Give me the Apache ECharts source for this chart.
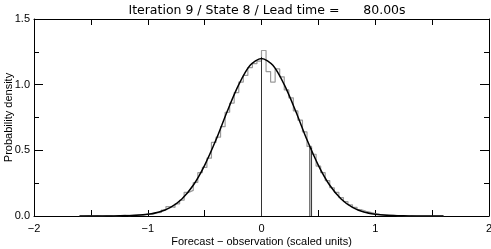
<!DOCTYPE html>
<html><head><meta charset="utf-8">
<script src="https://cdn.jsdelivr.net/npm/echarts@6/dist/echarts.min.js"></script>
<style>html,body{margin:0;padding:0;background:#fff}#c{width:491px;height:249px}</style>
</head><body><div id="c"></div>
<script>
var titleText = 'Iteration 9 / State 8 / Lead time =      80.00s';
var xName = 'Forecast \u2212 observation (scaled units)';
var yName = 'Probability density';
var xTickLabels = {'-2':'\u22122','-1':'\u22121','0':'0','1':'1','2':'2'};
var yTickLabels = {'0':'0.0','0.5':'0.5','1':'1.0','1.5':'1.5'};
var binStart = -1.60;
var binWidth = 0.04;
var histValues = [
 0.000,0.003,0.000,0.003,0.000,0.003,0.003,0.000,0.003,0.006,
 0.003,0.006,0.009,0.006,0.015,0.012,0.024,0.027,0.045,0.072,
 0.066,0.093,0.120,0.180,0.195,0.255,0.330,0.370,0.440,0.560,
 0.600,0.680,0.790,0.860,0.940,1.020,1.070,1.130,1.160,1.180,
 1.260,1.100,1.020,1.120,1.060,0.960,0.900,0.800,0.730,0.640,
 0.530,0.470,0.380,0.330,0.270,0.215,0.180,0.140,0.110,0.085,
 0.066,0.048,0.036,0.027,0.018,0.012,0.009,0.006,0.006,0.003,
 0.003,0.000,0.003,0.000,0.000,0.000,0.000,0.000,0.000,0.000
];
var curveX = [-1.6,-1.5,-1.4,-1.3,-1.2,-1.1,-1.0,-0.9,-0.8,-0.7,-0.6,-0.5,-0.4,-0.3,-0.2,-0.1,0,0.1,0.2,0.3,0.4,0.5,0.6,0.7,0.8,0.9,1.0,1.1,1.2,1.3,1.4,1.5,1.6];
var curveY = [0.000,0.000,0.0002,0.0005,0.002,0.005,0.013,0.030,0.066,0.130,0.234,0.386,0.580,0.800,1.000,1.147,1.200,1.147,1.000,0.800,0.580,0.386,0.234,0.130,0.066,0.030,0.013,0.005,0.002,0.0005,0.0002,0.000,0.000];
var vLineX = [0, 0.425, 0.44];
var vLineTop = [1.21, 0.53, 0.52];

var histData = [];
for (var i = 0; i < histValues.length; i++) histData.push([+(binStart + i*binWidth).toFixed(4), histValues[i]]);
histData.push([+(binStart + histValues.length*binWidth).toFixed(4), 0]);
var curveData = curveX.map(function(x,i){return [x, curveY[i]];});
var vSeries = vLineX.map(function(x,i){
  return {type:'line', xAxisIndex:0, yAxisIndex:0, data:[[x,0],[x,vLineTop[i]]], symbol:'none', silent:true,
    lineStyle:{color:'#333', width:1}, z:4};
});

var font = 'Liberation Sans, Arial, sans-serif';
var chart = echarts.init(document.getElementById('c'), null, {renderer:'canvas'});
chart.setOption({
  animation:false,
  backgroundColor:'#fff',
  title:{text:titleText, left:262, top:-1, textAlign:'center',
    textStyle:{fontSize:12.5, fontWeight:'normal', color:'#000', fontFamily:'DejaVu Sans, sans-serif'}},
  grid:{left:34, right:2, top:19, bottom:33, containLabel:false, outerBoundsMode:'none'},
  xAxis:[
    {type:'value', min:-2, max:2, interval:0.5, position:'bottom',
     name:xName, nameLocation:'middle', nameGap:20, nameMoveOverlap:false,
     nameTextStyle:{fontSize:11, color:'#000', fontFamily:font},
     axisLine:{show:true, onZero:false, lineStyle:{color:'#000', width:1}},
     axisTick:{show:true, inside:true, length:6, lineStyle:{color:'#000'}},
     axisLabel:{fontSize:11, color:'#000', fontFamily:font, margin:7,
       formatter:function(v){var k=String(+v.toFixed(2)); return xTickLabels.hasOwnProperty(k)?xTickLabels[k]:'';}},
     splitLine:{show:false}},
    {type:'value', min:-2, max:2, interval:0.5, position:'top',
     axisLine:{show:true, onZero:false, lineStyle:{color:'#000', width:1}},
     axisTick:{show:true, inside:true, length:6, lineStyle:{color:'#000'}},
     axisLabel:{show:false}, splitLine:{show:false}}
  ],
  yAxis:[
    {type:'value', min:0, max:1.5, interval:0.5, position:'left',
     name:yName, nameLocation:'middle', nameGap:20, nameRotate:90, nameMoveOverlap:false,
     nameTextStyle:{fontSize:11, color:'#000', fontFamily:font},
     axisLine:{show:true, onZero:false, lineStyle:{color:'#000', width:1}},
     axisTick:{show:true, inside:true, length:9, lineStyle:{color:'#000'}},
     minorTick:{show:true, splitNumber:2, length:5, lineStyle:{color:'#000'}},
     axisLabel:{fontSize:11, color:'#000', fontFamily:font, margin:4,
       formatter:function(v){var k=String(+v.toFixed(2)); return yTickLabels.hasOwnProperty(k)?yTickLabels[k]:'';}},
     splitLine:{show:false}, minorSplitLine:{show:false}},
    {type:'value', min:0, max:1.5, interval:0.5, position:'right',
     axisLine:{show:true, onZero:false, lineStyle:{color:'#000', width:1}},
     axisTick:{show:true, inside:true, length:9, lineStyle:{color:'#000'}},
     minorTick:{show:true, splitNumber:2, length:5, lineStyle:{color:'#000'}},
     axisLabel:{show:false}, splitLine:{show:false}, minorSplitLine:{show:false}}
  ],
  series:[
    {type:'line', data:histData, step:'end', symbol:'none', silent:true,
     lineStyle:{color:'#9a9a9a', width:1.2}, z:2},
    {type:'line', data:curveData, smooth:0.3, symbol:'none', silent:true,
     lineStyle:{color:'#000', width:1.5}, z:5}
  ].concat(vSeries)
});
</script></body></html>
